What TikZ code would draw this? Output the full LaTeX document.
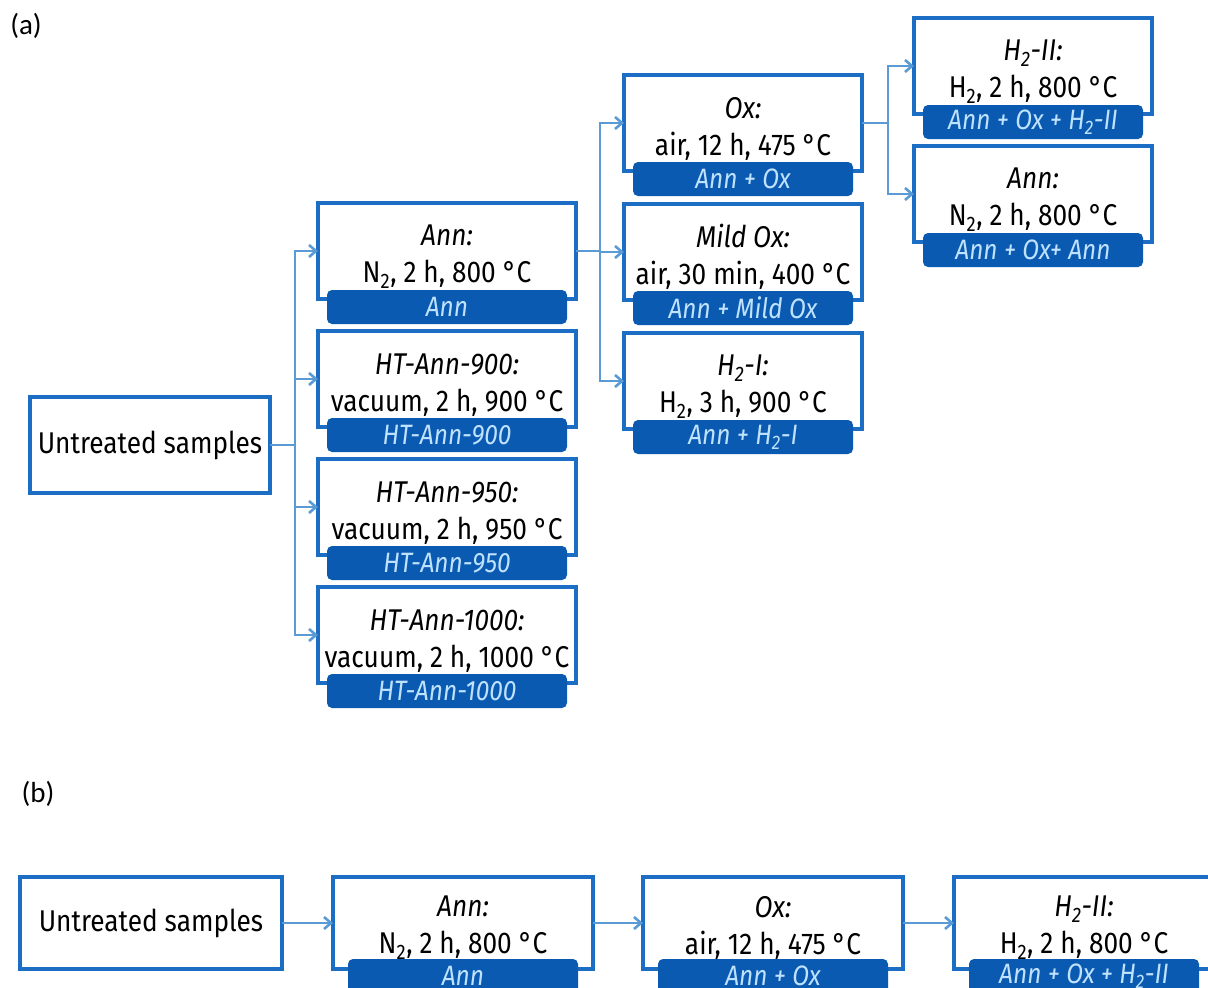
\documentclass[tikz,border=0pt]{standalone}
\usepackage{fontspec}
\setmainfont{Fira Sans}[FakeStretch=0.875]
\newfontfamily\labelfont{Carlito}
\usepackage{tikz}
\usetikzlibrary{arrows.meta, positioning}

\definecolor{boxblue}{HTML}{1C6DC4}
\definecolor{tagblue}{HTML}{0B5AB2}
\definecolor{tagtext}{HTML}{BFE3FF}
\definecolor{linkblue}{HTML}{5B9BD5}

\newcommand{\lowtwo}{\textsubscript{2}}

\begin{document}
\begin{tikzpicture}[
    x=1pt, y=-1pt,
    >={Straight Barb[length=7pt,width=12pt]},
    procnode/.style={draw=boxblue, line width=3.2pt, fill=white, minimum height=96pt, inner sep=0pt, outer sep=0pt, align=center, font=\fontsize{30}{37}\selectfont},
    colone/.style={procnode, minimum width=258pt, text height=69pt},
    coltwo/.style={procnode, minimum width=238pt, text height=69pt},
    seqnode/.style={procnode, minimum width=260pt, minimum height=92pt},
    tagnode/.style={fill=tagblue, rounded corners=5pt, minimum height=34pt, inner sep=0pt, outer sep=0pt, text=tagtext, font=\fontsize{28}{30}\selectfont\itshape},
    flow/.style={->, line width=2.6pt, linkblue},
    link/.style={line width=2.6pt, linkblue},
    panellabel/.style={font=\labelfont\fontsize{29}{32}\selectfont}
]
    \useasboundingbox (0,0) rectangle (1208,988);
    \clip (0,0) rectangle (1208,988);
    \fill[white] (0,0) rectangle (1208,988);

    \node[panellabel] (LabelA) at (26,26) {(a)};
    \node[panellabel] (LabelB) at (38,794) {(b)};

    % (a) tree
    \node[procnode, minimum width=240pt] (Raw) at (150,445) {Untreated samples};

    \node[colone] (Ann) at (447,251) {{\itshape Ann:}\\N\lowtwo, 2 h, 800 °C};
    \node[colone, below=32pt of Ann] (HTA900) {{\itshape HT-Ann-900:}\\vacuum, 2 h, 900 °C};
    \node[colone, below=32pt of HTA900] (HTA950) {{\itshape HT-Ann-950:}\\vacuum, 2 h, 950 °C};
    \node[colone, below=32pt of HTA950] (HTA1000) {{\itshape HT-Ann-1000:}\\vacuum, 2 h, 1000 °C};

    \node[coltwo] (Ox) at (743,123) {{\itshape Ox:}\\air, 12 h, 475 °C};
    \node[coltwo, below=33pt of Ox] (MildOx) {{\itshape Mild Ox:}\\air, 30 min, 400 °C};
    \node[coltwo, below=33pt of MildOx] (HyI) {{\itshape H\lowtwo-I:}\\H\lowtwo, 3 h, 900 °C};

    \node[coltwo] (HyII) at (1033,66) {{\itshape H\lowtwo-II:}\\H\lowtwo, 2 h, 800 °C};
    \node[coltwo, below=32pt of HyII] (AnnC) {{\itshape Ann:}\\N\lowtwo, 2 h, 800 °C};

    \node[tagnode, minimum width=240pt, below=-9pt of Ann] (AnnTag) {Ann};
    \node[tagnode, minimum width=240pt, below=-9pt of HTA900] (HTA900Tag) {HT-Ann-900};
    \node[tagnode, minimum width=240pt, below=-9pt of HTA950] (HTA950Tag) {HT-Ann-950};
    \node[tagnode, minimum width=240pt, below=-9pt of HTA1000] (HTA1000Tag) {HT-Ann-1000};
    \node[tagnode, minimum width=220pt, below=-9pt of Ox] (OxTag) {Ann + Ox};
    \node[tagnode, minimum width=220pt, below=-9pt of MildOx] (MildOxTag) {Ann + Mild Ox};
    \node[tagnode, minimum width=220pt, below=-9pt of HyI] (HyITag) {Ann + H\lowtwo-I};
    \node[tagnode, minimum width=220pt, below=-9pt of HyII] (HyIITag) {Ann + Ox + H\lowtwo-II};
    \node[tagnode, minimum width=220pt, below=-9pt of AnnC] (AnnCTag) {Ann + Ox+ Ann};

    \coordinate (SplitA) at (295,445);
    \coordinate (SplitB) at (600,251);
    \coordinate (SplitC) at (888,123);

    \draw[link] (Raw) -- (SplitA);
    \foreach \n in {Ann, HTA900, HTA950, HTA1000}
        \draw[flow] (SplitA) |- (\n);
    \draw[link] (Ann) -- (SplitB);
    \foreach \n in {Ox, MildOx, HyI}
        \draw[flow] (SplitB) |- (\n);
    \draw[link] (Ox) -- (SplitC);
    \foreach \n in {HyII, AnnC}
        \draw[flow] (SplitC) |- (\n);

    % (b) sequence
    \node[seqnode, minimum width=262pt] (RawSeq) at (151,923) {Untreated samples};
    \node[seqnode, text height=67pt] (AnnSeq) at (463,923) {{\itshape Ann:}\\N\lowtwo, 2 h, 800 °C};
    \node[seqnode, text height=67pt] (OxSeq) at (773,923) {{\itshape Ox:}\\air, 12 h, 475 °C};
    \node[seqnode, text height=67pt] (HyIISeq) at (1084,923) {{\itshape H\lowtwo-II:}\\H\lowtwo, 2 h, 800 °C};

    \node[tagnode, minimum width=230pt, below=-10pt of AnnSeq] (AnnSeqTag) {Ann};
    \node[tagnode, minimum width=230pt, below=-10pt of OxSeq] (OxSeqTag) {Ann + Ox};
    \node[tagnode, minimum width=230pt, below=-10pt of HyIISeq] (HyIISeqTag) {Ann + Ox + H\lowtwo-II};

    \draw[flow] (RawSeq) -- (AnnSeq);
    \draw[flow] (AnnSeq) -- (OxSeq);
    \draw[flow] (OxSeq) -- (HyIISeq);

\end{tikzpicture}
\end{document}
